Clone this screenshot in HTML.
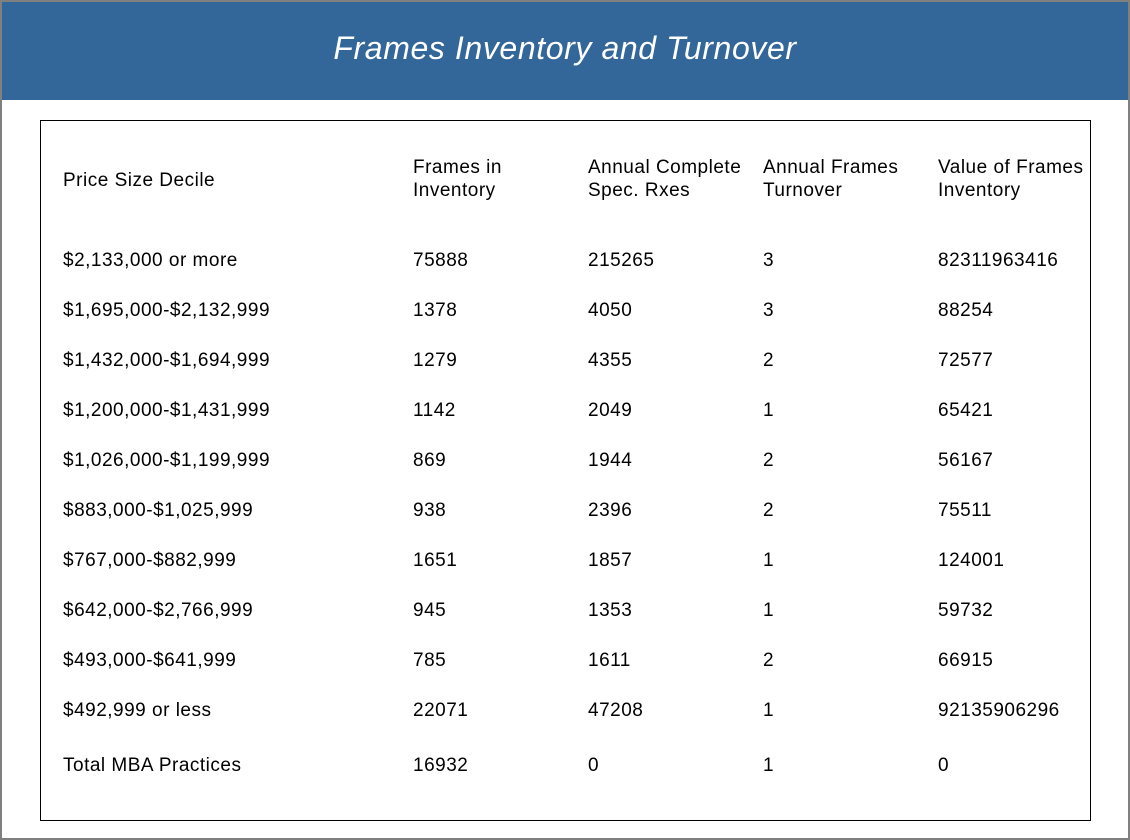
<!DOCTYPE html>
<html><head><style>
*{margin:0;padding:0}
body{width:1130px;height:840px;position:relative;background:#fff;font-family:"Liberation Sans",sans-serif;overflow:hidden}
#frame{position:absolute;left:0;top:0;width:1126px;height:836px;border:2px solid #808080}
#hdr{position:absolute;left:2px;top:2px;width:1126px;height:98px;background:#336699;color:#fff;font-style:italic;font-size:32px;letter-spacing:0.6px;text-align:center;line-height:92px}
#box{position:absolute;left:40px;top:120px;width:1049px;height:699px;border:1px solid #000}
.t{position:absolute;font-size:19px;letter-spacing:0.5px;line-height:23px;color:#000;white-space:nowrap}
</style></head><body>
<div id="frame"></div>
<div id="hdr">Frames Inventory and Turnover</div>
<div id="box"></div>
<div class="t" style="left:63px;top:169px">Price Size Decile</div>
<div class="t" style="left:413px;top:156px">Frames in<br>Inventory</div>
<div class="t" style="left:588px;top:156px">Annual Complete<br>Spec. Rxes</div>
<div class="t" style="left:763px;top:156px">Annual Frames<br>Turnover</div>
<div class="t" style="left:938px;top:156px">Value of Frames<br>Inventory</div>
<script>
var rows=[["$2,133,000 or more","75888","215265","3","82311963416"],
["$1,695,000-$2,132,999","1378","4050","3","88254"],
["$1,432,000-$1,694,999","1279","4355","2","72577"],
["$1,200,000-$1,431,999","1142","2049","1","65421"],
["$1,026,000-$1,199,999","869","1944","2","56167"],
["$883,000-$1,025,999","938","2396","2","75511"],
["$767,000-$882,999","1651","1857","1","124001"],
["$642,000-$2,766,999","945","1353","1","59732"],
["$493,000-$641,999","785","1611","2","66915"],
["$492,999 or less","22071","47208","1","92135906296"],
["Total MBA Practices","16932","0","1","0"]];
var xs=[63,413,588,763,938],h="";
rows.forEach(function(r,i){var y=(i<10?260+50*i:765)-11;
r.forEach(function(c,j){h+='<div class="t" style="left:'+xs[j]+'px;top:'+y+'px">'+c+'</div>';});});
document.body.insertAdjacentHTML('beforeend',h);
</script>
</body></html>
